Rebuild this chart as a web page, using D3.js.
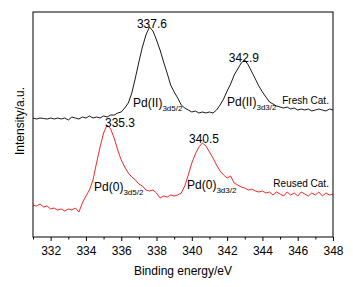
<!DOCTYPE html>
<html><head><meta charset="utf-8">
<script src="https://cdnjs.cloudflare.com/ajax/libs/d3/7.8.5/d3.min.js"></script>
<style>body{margin:0;background:#fff}svg{display:block;font-family:Arial,"Liberation Sans",sans-serif}</style>
</head><body><svg id="c" width="353" height="287"></svg>
<script>
const energyStart = 331, energyStep = 0.2;
const freshCat = [119,118,119,118.5,118,119,118,119,118,119,
117,120,119,118,120,119,121,119,120,119,
121,120,122,122,124,125,129,134,144,159,
175,190,202,210,206,197,187,175,164,152,
145,139,132,129,127,125,126,124,125,124,
125,124,127,132,138,146,153,162,168,174,
177,172,165,158,151,145,140,135,133,131,
130,129,130,128,129,127,128,127,128,126,
127,128,127,126,128,127];
const reusedCat = [32,31,33,30,31,28,29,27,28,26,
28,27,29,25,34,41,47,57,74,90,
104,112,108,99,87,77,70,64,60,57,
53,51,47,46,47,44,39,41,40,42,
41,42,44,51,62,74,83,90,94,91,
85,79,72,66,62,59,61,54,52,50,
49,47,48,46,45,46,44,45,42,45,
43,41,45,42,44,41,45,43,41,44,
42,45,41,44,42,43];
const majorTicks = [332,334,336,338,340,342,344,346,348];
const minorTicks = [331,333,335,337,339,341,343,345,347];
const peakLabels = [
  {e:337.74, v:209, text:"337.6"},
  {e:342.95, v:175, text:"342.9"},
  {e:335.93, v:110, text:"335.3"},
  {e:340.69, v:94,  text:"340.5"}
];
const stateLabels = [
  {e:336.67, v:130, main:"Pd(II)", sub:"3d5/2"},
  {e:342.0,  v:131, main:"Pd(II)", sub:"3d3/2"},
  {e:334.46, v:46,  main:"Pd(0)",  sub:"3d5/2"},
  {e:339.73, v:48,  main:"Pd(0)",  sub:"3d3/2"}
];
const seriesLabels = [
  {e:347.77, v:133, text:"Fresh Cat."},
  {e:347.77, v:50,  text:"Reused Cat."}
];

const svg = d3.select("#c");
const L=33, R=333, T=12, B=237;
const x = d3.scaleLinear().domain([331,348]).range([L,R]);
const y = d3.scaleLinear().domain([0,225]).range([B,T]);
const E = i => energyStart + i*energyStep;
const line = d3.line().x((d,i)=>x(E(i))).y(d=>y(d));

svg.append("path").datum(freshCat).attr("d",line).attr("fill","none").attr("stroke","#000").attr("stroke-width",0.9);
svg.append("path").datum(reusedCat).attr("d",line).attr("fill","none").attr("stroke","#f01010").attr("stroke-width",0.9);

svg.append("rect").attr("x",L).attr("y",T).attr("width",R-L).attr("height",B-T).attr("fill","none").attr("stroke","#000").attr("stroke-width",1);

const ax = svg.append("g").attr("transform",`translate(0,${B})`)
  .call(d3.axisBottom(x).tickValues(majorTicks).tickSize(4).tickFormat(d3.format("d")));
ax.select(".domain").remove();
ax.selectAll("text").attr("font-size",12).attr("font-family","Arial,Liberation Sans").attr("fill","#000").attr("dy","0.9em");
const axm = svg.append("g").attr("transform",`translate(0,${B})`)
  .call(d3.axisBottom(x).tickValues(minorTicks).tickSize(2.5).tickFormat(""));
axm.select(".domain").remove();

svg.append("text").attr("x",(L+R)/2).attr("y",275).attr("text-anchor","middle").attr("font-size",12).text("Binding energy/eV");
svg.append("text").attr("transform","translate(24,121) rotate(-90)").attr("text-anchor","middle").attr("font-size",12).text("Intensity/a.u.");

peakLabels.forEach(p=>{
  svg.append("text").attr("x",x(p.e)).attr("y",y(p.v)).attr("text-anchor","middle").attr("font-size",12).text(p.text);
});
stateLabels.forEach(p=>{
  const t = svg.append("text").attr("x",x(p.e)).attr("y",y(p.v)).attr("font-size",12);
  t.append("tspan").text(p.main);
  t.append("tspan").attr("font-size",8).attr("dy",4).text(p.sub);
});
seriesLabels.forEach(p=>{
  svg.append("text").attr("x",x(p.e)).attr("y",y(p.v)).attr("text-anchor","end").attr("font-size",10).text(p.text);
});
</script></body></html>
